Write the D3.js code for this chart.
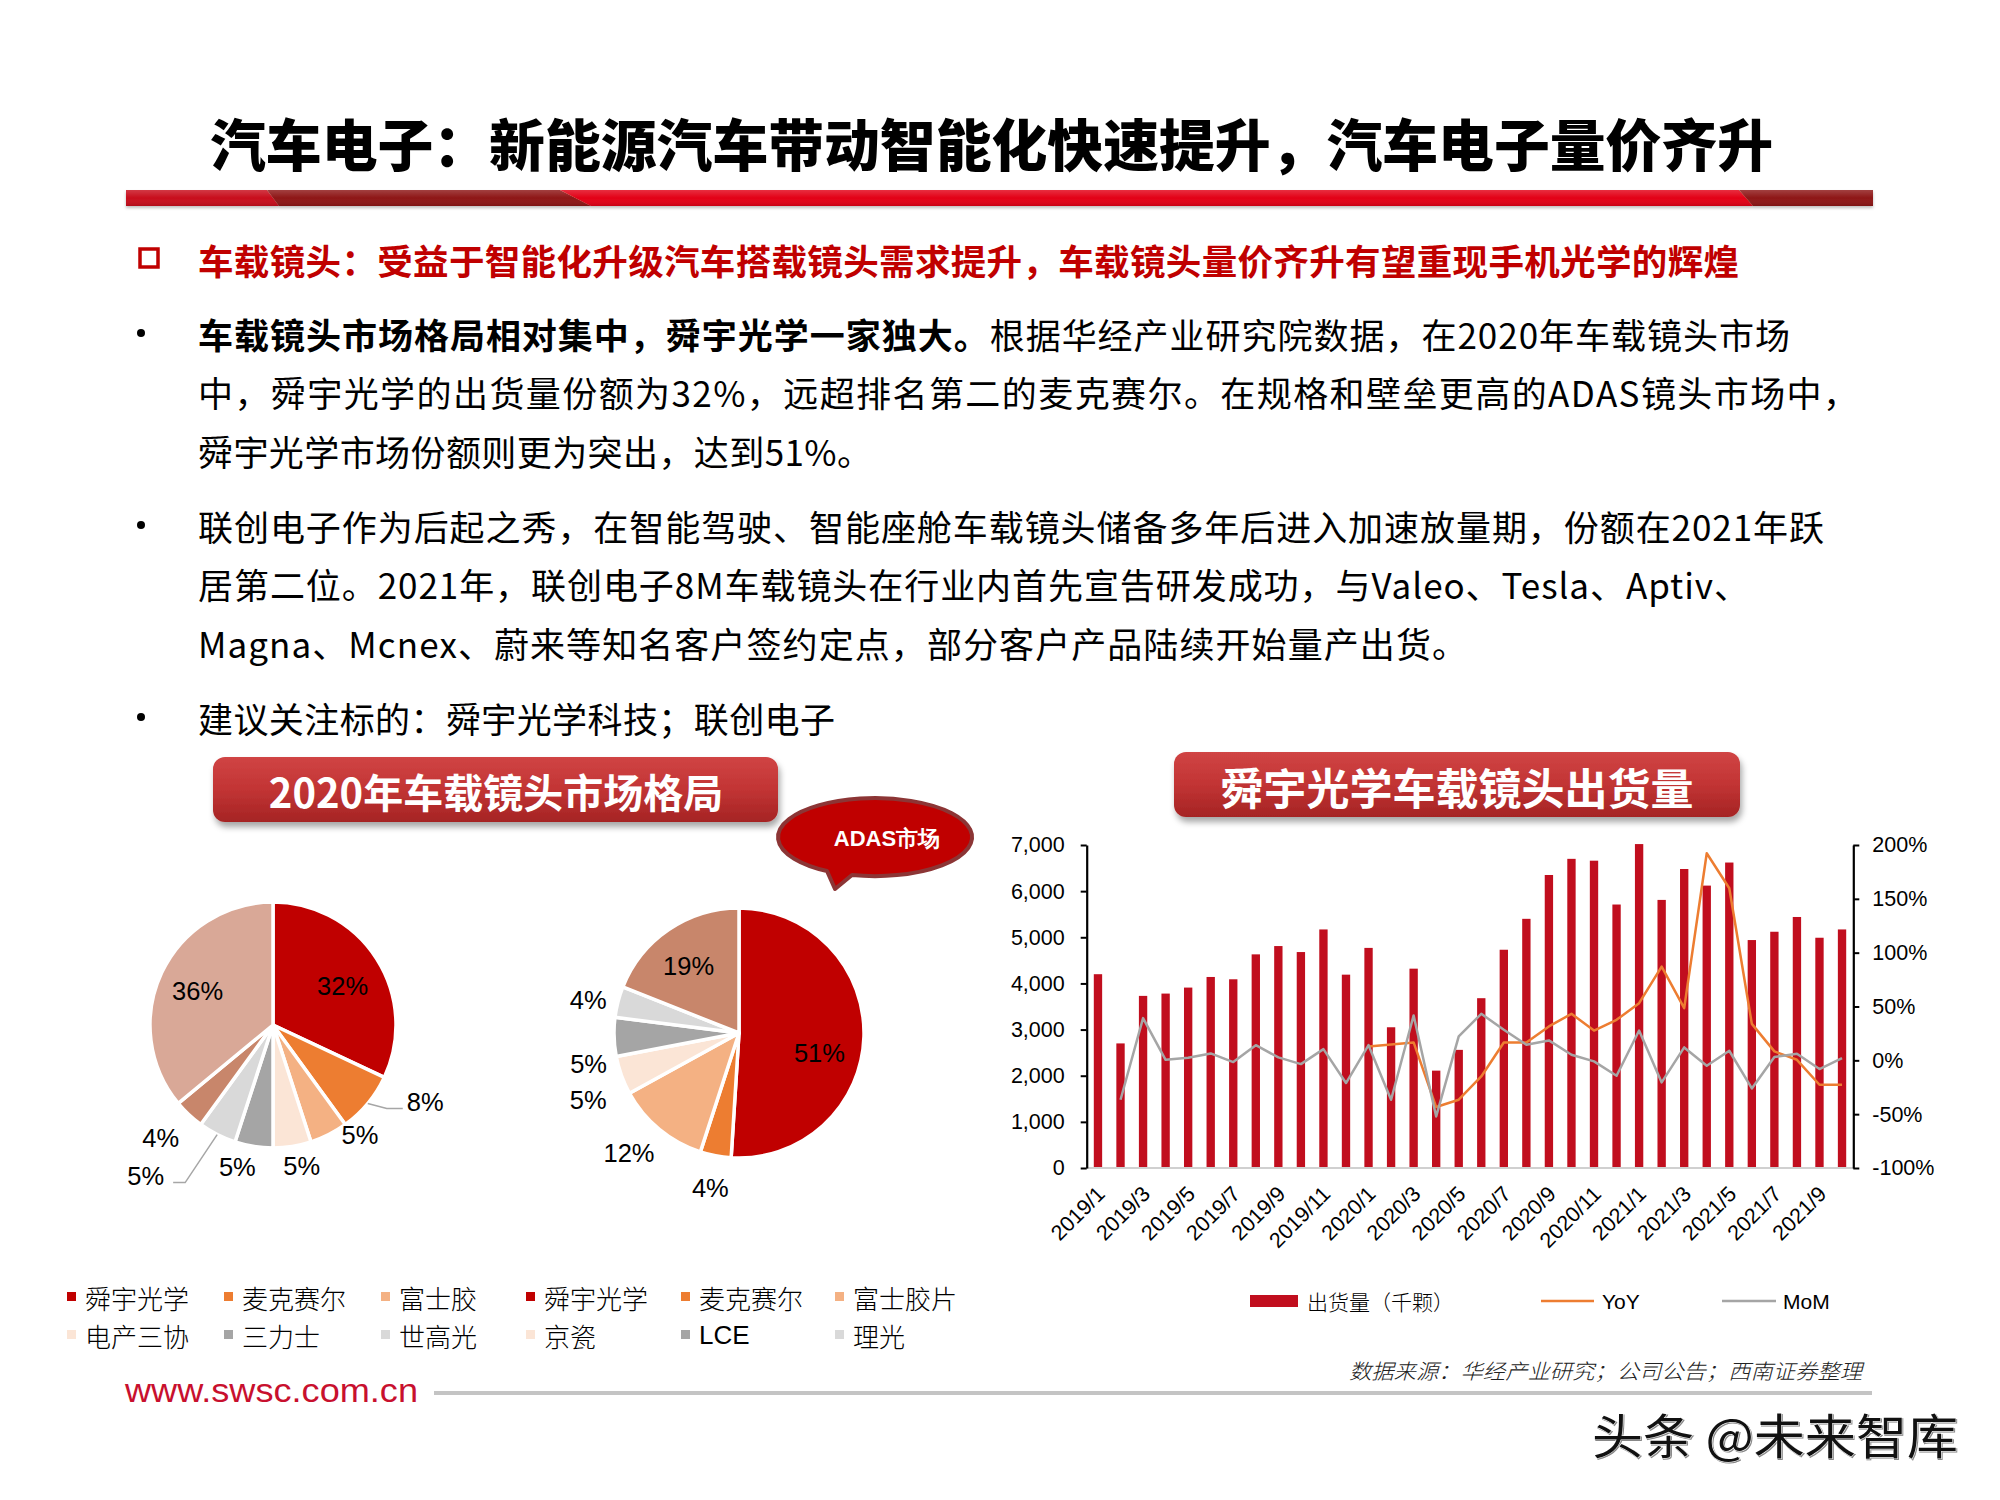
<!DOCTYPE html>
<html><head><meta charset="utf-8">
<script src="https://cdn.jsdelivr.net/npm/d3@7"></script>
<style>
html,body{margin:0;padding:0;background:#fff;}
svg{display:block;}
</style></head>
<body>
<svg id="c" width="2000" height="1500"></svg>
<script>
// ---------------- DATA ----------------
const months = ['2019/1','2019/2','2019/3','2019/4','2019/5','2019/6','2019/7','2019/8','2019/9','2019/10','2019/11','2019/12',
  '2020/1','2020/2','2020/3','2020/4','2020/5','2020/6','2020/7','2020/8','2020/9','2020/10','2020/11','2020/12',
  '2021/1','2021/2','2021/3','2021/4','2021/5','2021/6','2021/7','2021/8','2021/9','2021/10'];
const shipments = [4200,2700,3730,3780,3910,4140,4090,4630,4810,4680,5170,4190,
  4770,3050,4320,2110,2560,3680,4730,5400,6350,6700,6660,5710,
  7020,5810,6480,6120,6620,4940,5120,5440,4990,5170];
// YoY (%) from 2020/1
const yoy = [12.9,14.7,16.6,-43.4,-36.6,-15,16.6,16.6,31.5,43.2,27.7,37.6,
  53.1,87.1,48.5,192.3,159.8,33.9,8.3,0.5,-22.7,-22.7];
// MoM (%) from 2019/2
const mom = [-36.6,39.2,0.5,2.4,6.4,-1.6,14.1,2.7,-3.5,10.4,-21.1,
  14.1,-36.6,41.7,-52.1,22.2,43.2,28.4,14.4,18.5,5.2,-1,-14.3,
  27.7,-20.5,12,-5,8.9,-26.1,3,6.1,-8.1,2.1];
const leftTicks = [0,1000,2000,3000,4000,5000,6000,7000];
const rightTicks = [-100,-50,0,50,100,150,200];
const xTickLabels = ['2019/1','2019/3','2019/5','2019/7','2019/9','2019/11','2020/1','2020/3','2020/5','2020/7','2020/9','2020/11','2021/1','2021/3','2021/5','2021/7','2021/9'];
const seriesNames = ['出货量（千颗）','YoY','MoM'];

const pie1Names = ['舜宇光学','麦克赛尔','富士胶','电产三协','三力士','世高光'];
const pie1Values = [32,8,5,5,5,5,4,36];
const pie2Names = ['舜宇光学','麦克赛尔','富士胶片','京瓷','LCE','理光'];
const pie2Values = [51,4,12,5,5,4,19];

const titleText = '汽车电子：新能源汽车带动智能化快速提升，汽车电子量价齐升';
const subTitleText = '车载镜头：受益于智能化升级汽车搭载镜头需求提升，车载镜头量价齐升有望重现手机光学的辉煌';
const pieBannerText = '2020年车载镜头市场格局';
const barBannerText = '舜宇光学车载镜头出货量';
const bubbleText = 'ADAS市场';
const sourceText = '数据来源：华经产业研究；公司公告；西南证券整理';
const siteText = 'www.swsc.com.cn';
const watermarkText = '头条 @未来智库';

// ---------------- STYLE / LAYOUT ----------------
const CJK = '"Noto Sans CJK SC","Noto Sans",sans-serif';
const SANS = '"Liberation Sans",Arial,sans-serif';
const sliceColors = ['#c00000','#ed7d31','#f4b183','#fbe5d6','#a5a5a5','#d9d9d9','#c8866b','#d9a897'];
const sliceColors2 = ['#c00000','#ed7d31','#f4b183','#fbe5d6','#a5a5a5','#d9d9d9','#c8866b'];
const barColor = '#c10e1e', yoyColor = '#ed7d31', momColor = '#a5a5a5';

const svg = d3.select('#c');
const defs = svg.append('defs');
const bg = defs.append('linearGradient').attr('id','bannerGrad').attr('x1',0).attr('y1',0).attr('x2',0).attr('y2',1);
bg.append('stop').attr('offset','0%').attr('stop-color','#d04444');
bg.append('stop').attr('offset','50%').attr('stop-color','#c23434');
bg.append('stop').attr('offset','100%').attr('stop-color','#a52424');
const sh = defs.append('filter').attr('id','shadow').attr('x','-5%').attr('y','-30%').attr('width','115%').attr('height','170%');
sh.append('feDropShadow').attr('dx',2).attr('dy',5).attr('stdDeviation',3).attr('flood-color','#000').attr('flood-opacity',0.35);
const gl = defs.append('linearGradient').attr('id','gloss').attr('x1',0).attr('y1',0).attr('x2',0).attr('y2',1);
gl.append('stop').attr('offset','0%').attr('stop-color','#fff').attr('stop-opacity',0.18);
gl.append('stop').attr('offset','50%').attr('stop-color','#fff').attr('stop-opacity',0.0);
gl.append('stop').attr('offset','100%').attr('stop-color','#000').attr('stop-opacity',0.12);
const bs = defs.append('filter').attr('id','barShadow').attr('x','-2%').attr('y','-50%').attr('width','104%').attr('height','250%');
bs.append('feDropShadow').attr('dx',0).attr('dy',2).attr('stdDeviation',1.5).attr('flood-color','#000').attr('flood-opacity',0.25);

// ---------------- TITLE ----------------
svg.append('text').attr('x',991.5).attr('y',141).attr('text-anchor','middle').attr('dominant-baseline','central')
  .style('font-family',CJK).style('font-weight',900).style('font-size','56px').attr('fill','#000')
  .attr('textLength',1563).attr('lengthAdjust','spacingAndGlyphs').text(titleText);

// red decorative bar
const rb = svg.append('g').attr('filter','url(#barShadow)');
const barTop = 190, barBot = 206;
rb.append('polygon').attr('points',`126,${barTop} 267,${barTop} 279,${barBot} 126,${barBot}`).attr('fill','#c8101c');
rb.append('polygon').attr('points',`267,${barTop} 560,${barTop} 591,${barBot} 279,${barBot}`).attr('fill','#8e1915');
rb.append('polygon').attr('points',`560,${barTop} 1739,${barTop} 1753,${barBot} 591,${barBot}`).attr('fill','#e30613');
rb.append('polygon').attr('points',`1739,${barTop} 1873,${barTop} 1873,${barBot} 1753,${barBot}`).attr('fill','#8e1915');
svg.append('rect').attr('x',126).attr('y',barTop).attr('width',1747).attr('height',barBot-barTop).attr('fill','url(#gloss)');

// subtitle
svg.append('rect').attr('x',140).attr('y',249).attr('width',18).attr('height',18).attr('fill','none').attr('stroke','#c00000').attr('stroke-width',3.5);
svg.append('text').attr('x',198).attr('y',259).attr('dominant-baseline','central')
  .style('font-family',CJK).style('font-weight',700).style('font-size','35.5px').attr('fill','#c00000')
  .attr('textLength',1541).attr('lengthAdjust','spacing').text(subTitleText);

// body text
const bodyLines = [
  {y:333, bullet:true, parts:[['车载镜头市场格局相对集中，舜宇光学一家独大。',700],['根据华经产业研究院数据，在2020年车载镜头市场',400]], len:1592},
  {y:391, parts:[['中，舜宇光学的出货量份额为32%，远超排名第二的麦克赛尔。在规格和壁垒更高的ADAS镜头市场中，',400]], len:1660},
  {y:450, parts:[['舜宇光学市场份额则更为突出，达到51%。',400]], len:674},
  {y:525, bullet:true, parts:[['联创电子作为后起之秀，在智能驾驶、智能座舱车载镜头储备多年后进入加速放量期，份额在2021年跃',400]], len:1626},
  {y:583, parts:[['居第二位。2021年，联创电子8M车载镜头在行业内首先宣告研发成功，与Valeo、Tesla、Aptiv、',400]], len:1551},
  {y:642, parts:[['Magna、Mcnex、蔚来等知名客户签约定点，部分客户产品陆续开始量产出货。',400]], len:1269},
  {y:717, bullet:true, parts:[['建议关注标的：舜宇光学科技；联创电子',400]], len:637}
];
bodyLines.forEach(l => {
  if (l.bullet) {
    svg.append('circle').attr('cx',141).attr('cy',l.y).attr('r',4).attr('fill','#000');
  }
  const t = svg.append('text').attr('x',198).attr('y',l.y).attr('dominant-baseline','central')
    .style('font-family',CJK).style('font-size','35px').attr('fill','#000')
    .attr('textLength',l.len).attr('lengthAdjust','spacing');
  l.parts.forEach(p => t.append('tspan').style('font-weight',p[1]).text(p[0]));
});

// ---------------- BANNERS ----------------
function banner(x, y, w, h, label, fs, cx) {
  svg.append('rect').attr('x',x).attr('y',y).attr('width',w).attr('height',h).attr('rx',12)
    .attr('fill','url(#bannerGrad)').attr('filter','url(#shadow)');
  svg.append('text').attr('x',cx).attr('y',y+h/2+1).attr('text-anchor','middle').attr('dominant-baseline','central')
    .style('font-family',CJK).style('font-weight',700).style('font-size',fs+'px').attr('fill','#fff').text(label);
}
banner(213,757,565,65,pieBannerText,40,496);
banner(1174,752,566,65,barBannerText,43,1457);

// ADAS bubble
svg.append('path').attr('d','M852,875 A97,39 0 1,0 827,871 L835,889 Z')
  .attr('fill','#c00000').attr('stroke','#8c3535').attr('stroke-width',4).attr('stroke-linejoin','round');
svg.append('text').attr('x',887).attr('y',838).attr('text-anchor','middle').attr('dominant-baseline','central')
  .style('font-family',SANS).style('font-weight',700).style('font-size','22px').attr('fill','#fff').text(bubbleText);

// ---------------- PIES ----------------
function drawPie(values, colors, cx, cy, r, nudges, leaders) {
  const g = svg.append('g').attr('transform',`translate(${cx},${cy})`);
  const arcs = d3.pie().sort(null).value(d=>d)(values);
  const arc = d3.arc().innerRadius(0).outerRadius(r);
  g.selectAll('path.s').data(arcs).enter().append('path').attr('class','s')
    .attr('d',arc).attr('fill',(d,i)=>colors[i]).attr('stroke','#fff').attr('stroke-width',3.5).attr('stroke-linejoin','round');
  arcs.forEach((d,i) => {
    const a = (d.startAngle+d.endAngle)/2;
    const big = d.value >= 19;
    const R = big ? 0.66*r : 1.18*r;
    let px = R*Math.sin(a), py = -R*Math.cos(a);
    let anchor = 'middle';
    const ld = leaders[i];
    if (ld) {
      const ex = r*Math.sin(a), ey = -r*Math.cos(a);
      const pts = ld.path.map(p => [ex+p[0], ey+p[1]]);
      g.append('path').attr('d', d3.line()([[ex,ey]].concat(pts))).attr('fill','none')
        .attr('stroke','#a6a6a6').attr('stroke-width',1.5);
      px = ex + ld.label[0]; py = ey + ld.label[1]; anchor = ld.anchor;
    } else {
      px += nudges[i][0]; py += nudges[i][1];
    }
    g.append('text').attr('x',px).attr('y',py).attr('text-anchor',anchor).attr('dominant-baseline','central')
      .style('font-family',SANS).style('font-size','25.5px').attr('fill','#000').text(d.value+'%');
  });
}
drawPie(pie1Values, sliceColors, 273, 1025, 123,
  [[1,4],[0,0],[21,-19],[6,-2],[-13,-1],[0,0],[-13,7],[-2,1]],
  {1:{path:[[19,5],[35,5]], label:[39,-1], anchor:'start'},
   5:{path:[[-32,48],[-44,48]], label:[-53,41], anchor:'end'}});
drawPie(pie2Values, sliceColors2, 739, 1033, 125,
  [[-2,17],[-1,10],[-16,6],[-12,17],[-3,26],[-8,4],[-4,1]], {});

// pie legends
function pieLegend(names, colors, xs, rowYs) {
  names.forEach((n,i) => {
    const col = i%3, row = Math.floor(i/3);
    const x = xs[col], y = rowYs[row];
    svg.append('rect').attr('x',x).attr('y',y-5).attr('width',9).attr('height',9).attr('fill',colors[i]);
    svg.append('text').attr('x',x+18).attr('y',y).attr('dominant-baseline','central')
      .style('font-family', /^[A-Z]+$/.test(n) ? SANS : CJK).style('font-weight',300).style('font-size','26px').attr('fill','#000').text(n);
  });
}
pieLegend(pie1Names, sliceColors, [67,224,381], [1297,1335]);
pieLegend(pie2Names, sliceColors2, [526,681,835], [1297,1335]);

// ---------------- BAR + LINE CHART ----------------
const cx0 = 1086.7, cx1 = 1853.3, cyTop = 845, cyBot = 1168;
const x = d3.scaleBand().domain(months).range([cx0,cx1]).paddingInner(0.63).paddingOuter(0.315);
const y = d3.scaleLinear().domain([0,7000]).range([cyBot,cyTop]);
const y2 = d3.scaleLinear().domain([-100,200]).range([cyBot,cyTop]);
const bw = x.bandwidth();
const chart = svg.append('g');

chart.selectAll('rect.bar').data(shipments).enter().append('rect').attr('class','bar')
  .attr('x',(d,i)=>x(months[i])).attr('y',d=>y(d)).attr('width',bw).attr('height',d=>cyBot-y(d)).attr('fill',barColor);

chart.append('line').attr('x1',cx0).attr('x2',cx1).attr('y1',cyBot).attr('y2',cyBot).attr('stroke','#d0d0d0').attr('stroke-width',2);

const lineGen = d3.line().x(d=>x(d[0])+bw/2).y(d=>y2(d[1]));
const yoyPts = yoy.map((v,i)=>[months[i+12],v]);
const momPts = mom.map((v,i)=>[months[i+1],v]);
chart.append('path').attr('d',lineGen(yoyPts)).attr('fill','none').attr('stroke',yoyColor).attr('stroke-width',2.5).attr('stroke-linejoin','round');
chart.append('path').attr('d',lineGen(momPts)).attr('fill','none').attr('stroke',momColor).attr('stroke-width',2.5).attr('stroke-linejoin','round');

const ax1 = chart.append('g').attr('transform',`translate(${cx0},0)`)
  .call(d3.axisLeft(y).tickValues(leftTicks).tickSize(6).tickSizeOuter(0).tickPadding(16).tickFormat(d3.format(',')));
const ax2 = chart.append('g').attr('transform',`translate(${cx1},0)`)
  .call(d3.axisRight(y2).tickValues(rightTicks).tickSize(6).tickSizeOuter(0).tickPadding(13).tickFormat(d=>d+'%'));
[ax1,ax2].forEach(a => {
  a.select('.domain').attr('stroke','#000').attr('stroke-width',2.2);
  a.selectAll('.tick line').attr('stroke','#000').attr('stroke-width',2);
  a.selectAll('.tick text').style('font-family',SANS).style('font-size','21.5px').attr('fill','#000');
});

chart.selectAll('text.xl').data(xTickLabels).enter().append('text').attr('class','xl')
  .attr('transform',d=>`translate(${x(d)+bw/2+3},1190) rotate(-45)`)
  .attr('text-anchor','end').attr('dy','0.35em')
  .style('font-family',SANS).style('font-size','21.5px').attr('fill','#000').text(d=>d);

// chart legend
svg.append('rect').attr('x',1250).attr('y',1295).attr('width',48).attr('height',12).attr('fill',barColor);
svg.append('text').attr('x',1307).attr('y',1301).attr('dominant-baseline','central')
  .style('font-family',CJK).style('font-weight',300).style('font-size','21px').attr('fill','#000').text(seriesNames[0]);
svg.append('line').attr('x1',1541).attr('x2',1594).attr('y1',1301).attr('y2',1301).attr('stroke',yoyColor).attr('stroke-width',2.5);
svg.append('text').attr('x',1602).attr('y',1301).attr('dominant-baseline','central')
  .style('font-family',SANS).style('font-size','21px').attr('fill','#000').text(seriesNames[1]);
svg.append('line').attr('x1',1722).attr('x2',1776).attr('y1',1301).attr('y2',1301).attr('stroke',momColor).attr('stroke-width',2.5);
svg.append('text').attr('x',1783).attr('y',1301).attr('dominant-baseline','central')
  .style('font-family',SANS).style('font-size','21px').attr('fill','#000').text(seriesNames[2]);

// source
svg.append('text').attr('x',1349).attr('y',1370).attr('dominant-baseline','central')
  .style('font-family',CJK).style('font-style','italic').style('font-weight',300).style('font-size','21px').attr('fill','#222')
  .attr('textLength',513).attr('lengthAdjust','spacingAndGlyphs').text(sourceText);

// footer
svg.append('text').attr('x',125).attr('y',1390).attr('dominant-baseline','central')
  .style('font-family',SANS).style('font-size','33px').attr('fill','#c8102e')
  .attr('textLength',293).attr('lengthAdjust','spacingAndGlyphs').text(siteText);
svg.append('line').attr('x1',434).attr('x2',1872).attr('y1',1393).attr('y2',1393).attr('stroke','#c4c4c4').attr('stroke-width',4);

svg.append('text').attr('x',1592).attr('y',1433).attr('dominant-baseline','central')
  .style('font-family',CJK).style('font-size','48px').attr('fill','#111')
  .attr('stroke','#fff').attr('stroke-width',1).attr('paint-order','stroke')
  .attr('textLength',366).attr('lengthAdjust','spacingAndGlyphs')
  .style('filter','drop-shadow(1px 1px 0px #888)').text(watermarkText);
</script>
</body></html>
